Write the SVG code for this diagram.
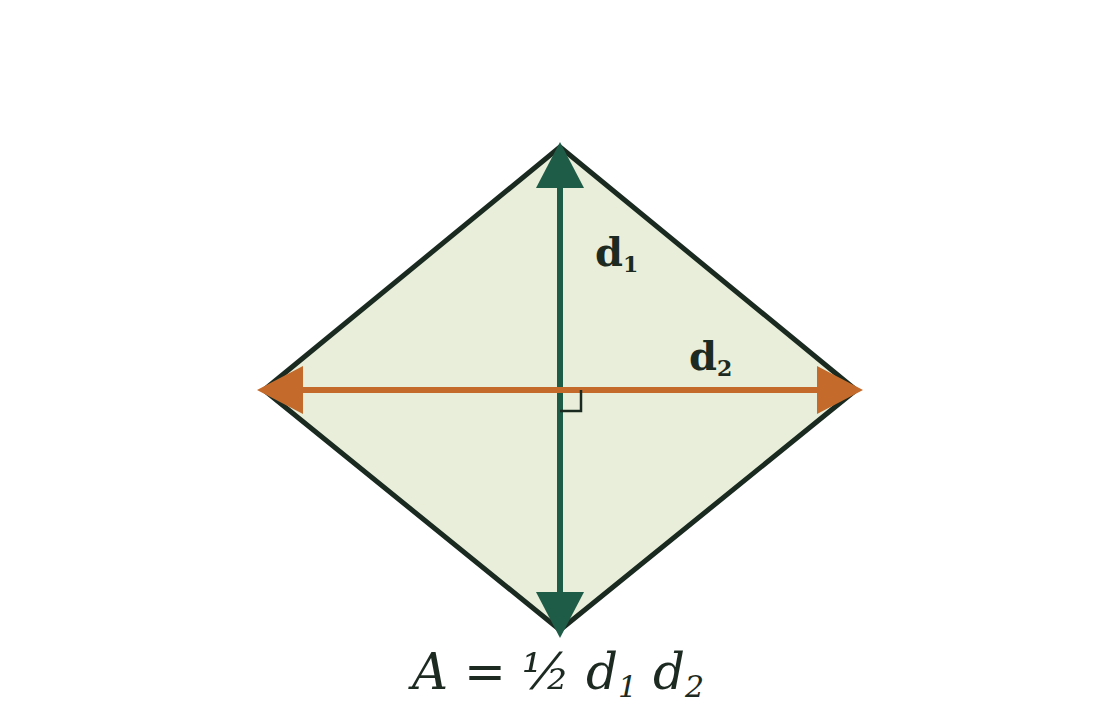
<svg xmlns="http://www.w3.org/2000/svg" width="1120" height="720" viewBox="0 0 1120 720">
  <style>
    .lbl { font-family: "DejaVu Serif", "Liberation Serif", serif; font-weight: bold; fill: #1c2a22; }
    .formula { font-family: "DejaVu Serif", "Liberation Serif", serif; font-style: italic; fill: #1c2a22; }
  </style>
  <defs>
    <marker id="ahG" viewBox="0 0 46 48" refX="0" refY="24" markerWidth="46" markerHeight="48" markerUnits="userSpaceOnUse" orient="auto">
      <path d="M0,0 L46,24 L0,48 Z" fill="#1f5c47"/>
    </marker>
    <marker id="ahO" viewBox="0 0 46 48" refX="0" refY="24" markerWidth="46" markerHeight="48" markerUnits="userSpaceOnUse" orient="auto">
      <path d="M0,0 L46,24 L0,48 Z" fill="#c46a2b"/>
    </marker>
  </defs>
  <rect width="1120" height="720" fill="#ffffff"/>
  <g id="rhombus">
    <polygon points="560,147 856,390 560,630 264,390" fill="#e8eed9" stroke="#1a2a20" stroke-width="5" stroke-linejoin="round"/>
  </g>
  <g id="connectors">
    <line id="d1-line" x1="560" y1="390" x2="560" y2="188" stroke="#1f5c47" stroke-width="6" marker-end="url(#ahG)"/>
    <line id="d1-line-b" x1="560" y1="390" x2="560" y2="592" stroke="#1f5c47" stroke-width="6" marker-end="url(#ahG)"/>
    <line id="d2-line" x1="560" y1="390" x2="303" y2="390" stroke="#c46a2b" stroke-width="6" marker-end="url(#ahO)"/>
    <line id="d2-line-b" x1="560" y1="390" x2="817" y2="390" stroke="#c46a2b" stroke-width="6" marker-end="url(#ahO)"/>
  </g>
  <g id="right-angle">
    <polyline points="560,411 581,411 581,390" fill="none" stroke="#1a2a20" stroke-width="2.5"/>
  </g>
  <g id="label-d1">
    <text class="lbl" x="595" y="266" font-size="40">d<tspan font-size="22" dy="6">1</tspan></text>
  </g>
  <g id="label-d2">
    <text class="lbl" x="689" y="370" font-size="40">d<tspan font-size="22" dy="6">2</tspan></text>
  </g>
  <g id="formula">
    <text class="formula" x="558" y="689" font-size="50" text-anchor="middle">A = ½ d<tspan font-size="30" dy="8">1</tspan><tspan dy="-8"> d</tspan><tspan font-size="30" dy="8">2</tspan></text>
  </g>
</svg>
